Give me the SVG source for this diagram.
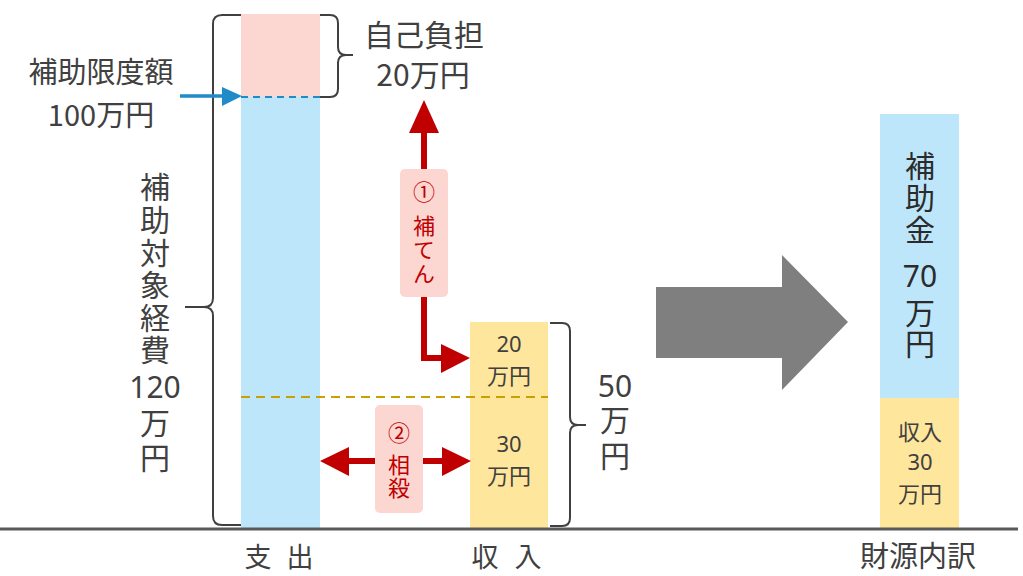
<svg xmlns="http://www.w3.org/2000/svg" width="1023" height="576" viewBox="0 0 1023 576">
<style>
text{font-family:"Noto Sans CJK JP","Noto Sans",sans-serif;fill:#404040;text-anchor:middle}
.num{font-family:"Noto Sans","Noto Sans CJK JP",sans-serif}
.v{writing-mode:vertical-rl;text-anchor:start}
.big{font-size:30px}
.mid{font-size:22px}
.res{font-size:30px;fill:#2b2b2b}
.red{fill:#C00000;font-size:22px}
.foot{font-size:27px}
.brace{fill:none;stroke:#404040;stroke-width:2}
.redl{fill:none;stroke:#C00000;stroke-width:6}
</style>
<rect width="1023" height="576" fill="#fff"/>
<g id="expenditure">
<rect x="241" y="14" width="79" height="83" fill="#FCD6D1"/>
<rect x="241" y="97" width="79" height="431" fill="#BDE6FA"/>
<line x1="241" y1="97" x2="320" y2="97" stroke="#1F8BC9" stroke-width="2" stroke-dasharray="7,5"/>
</g>
<g id="income">
<rect x="470" y="322" width="78" height="206" fill="#FEE69C"/>
<text class="mid num" x="509" y="352">20</text>
<text class="mid" x="509" y="384">万円</text>
<text class="mid num" x="509" y="452">30</text>
<text class="mid" x="509" y="484">万円</text>
</g>
<g id="result">
<rect x="880" y="114" width="79" height="284" fill="#BDE6FA"/>
<rect x="880" y="398" width="79" height="130" fill="#FEE69C"/>
<text class="res v" x="920" y="151" style="letter-spacing:2px">補助金</text>
<text class="res num" x="920" y="287">70</text>
<text class="res v" x="920" y="298" style="letter-spacing:1px">万円</text>
<text class="mid" x="920" y="440">収入</text>
<text class="mid num" x="920" y="470">30</text>
<text class="mid" x="920" y="502">万円</text>
</g>
<g id="labels">
<text class="big" x="101" y="83" style="font-size:29px">補助限度額</text>
<text class="big" x="101" y="126" style="font-size:29px">100万円</text>
<text class="big" x="424" y="46">自己負担</text>
<text class="big" x="423" y="86">20万円</text>
<text class="big v" x="155" y="172" style="letter-spacing:2.6px">補助対象経費</text>
<text class="big num" x="155" y="398">120</text>
<text class="big v" x="155" y="408" style="letter-spacing:5px">万円</text>
<text class="big num" x="615" y="397">50</text>
<text class="big v" x="615" y="405" style="letter-spacing:6px">万円</text>
<text class="foot" x="258" y="567">支</text>
<text class="foot" x="300" y="567">出</text>
<text class="foot" x="485" y="567">収</text>
<text class="foot" x="528" y="567">入</text>
<text class="foot" x="918" y="567" style="font-size:29px">財源内訳</text>
</g>
<g id="connectors">
<line x1="0" y1="529" x2="1018" y2="529" stroke="#595959" stroke-width="3"/>
<path class="brace" d="M241,15 H222 Q213,15 213,24 V298 Q213,307 204,307 H185 H204 Q213,307 213,316 V516 Q213,525 222,525 H241"/>
<path class="brace" d="M320,15 H330 Q338,15 338,23 V47 Q338,55 346,55 H353 H346 Q338,55 338,63 V89 Q338,97 330,97 H320"/>
<path class="brace" d="M550,323 H562 Q570,323 570,331 V417 Q570,425 578,425 H586 H578 Q570,425 570,433 V518 Q570,526 562,526 H550"/>
<line x1="241" y1="397" x2="548" y2="397" stroke="#C9A000" stroke-width="2" stroke-dasharray="9,6"/>
<line x1="180" y1="96" x2="226" y2="96" stroke="#1F8BC9" stroke-width="3.5"/>
<polygon points="222,87 242,96 222,106" fill="#1F8BC9"/>
<line class="redl" x1="424" y1="128" x2="424" y2="170"/>
<polygon points="409,133 424,100 439,133" fill="#C00000"/>
<polyline class="redl" points="424,296 424,358 444,358"/>
<polygon points="441,344 470,358 441,373" fill="#C00000"/>
<line class="redl" x1="345" y1="461" x2="375" y2="461"/>
<polygon points="349,447 320,461 349,476" fill="#C00000"/>
<line class="redl" x1="422" y1="461" x2="444" y2="461"/>
<polygon points="442,447 471,461 442,476" fill="#C00000"/>
<polygon points="656,287 782,287 782,255 848,322 782,390 782,358 656,358" fill="#7F7F7F"/>
</g>
<g id="label1">
<rect x="400" y="169" width="48" height="128" rx="5" fill="#FCD6D1"/>
<text class="red" x="424" y="200">①</text>
<text class="red v" x="424" y="215" style="letter-spacing:2px">補てん</text>
</g>
<g id="label2">
<rect x="375" y="405" width="48" height="108" rx="5" fill="#FCD6D1"/>
<text class="red" x="399" y="441">②</text>
<text class="red v" x="399" y="454" style="letter-spacing:1px">相殺</text>
</g>
</svg>
